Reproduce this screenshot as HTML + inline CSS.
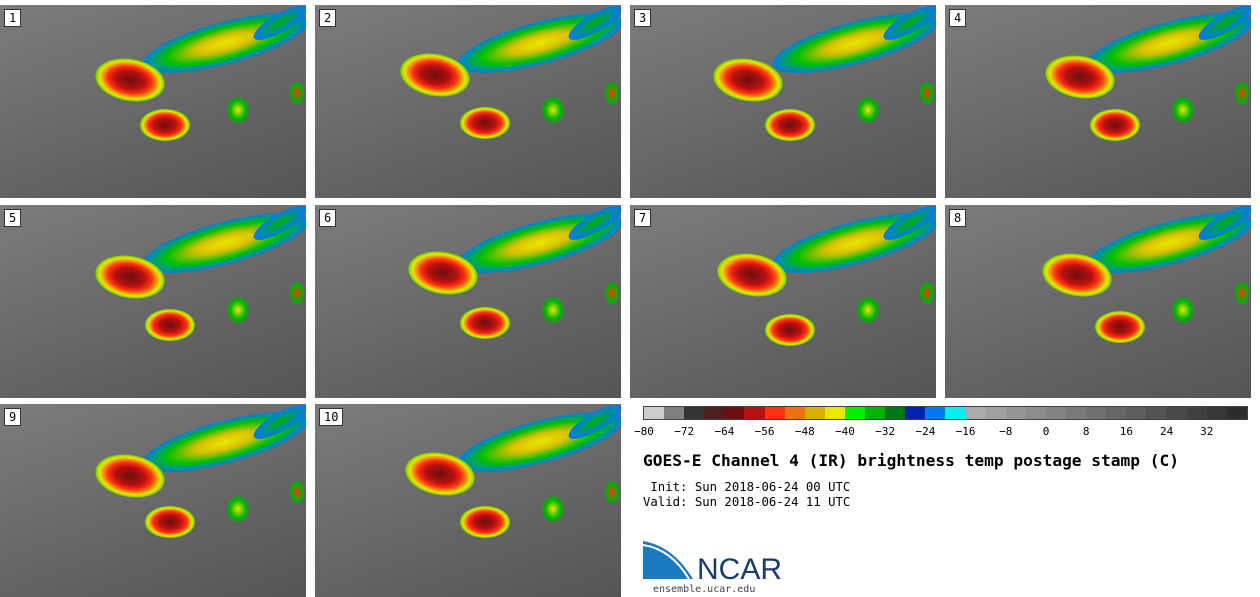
<!DOCTYPE html>
<html><head><meta charset="utf-8">
<style>
body{margin:0;width:1260px;height:597px;background:#fff;position:relative;overflow:hidden;font-family:"DejaVu Sans Mono","Liberation Mono",monospace;}
.panel{position:absolute;width:306px;height:193px;background:linear-gradient(160deg,#7c7c7c 0%,#6e6e6e 35%,#626262 65%,#555555 100%);overflow:hidden}
.num{position:absolute;left:4px;top:4px;background:#fff;border:1px solid #333;font-size:12px;padding:1px 4px;color:#000;z-index:5}
.blob{position:absolute;border-radius:50%}
#cbar{position:absolute;left:643px;top:406px;height:12px;width:603px;border:1px solid #444;display:flex}
.tick{position:absolute;top:425px;font-size:11px;transform:translateX(-50%);color:#000}
</style></head><body>
<div id="panels"></div>
<div id="cbar"></div>
<div id="ticks"></div>
<div style="position:absolute;left:643px;top:451px;font-size:16.2px;font-weight:bold">GOES-E Channel 4 (IR) brightness temp postage stamp (C)</div>
<div style="position:absolute;left:643px;top:480px;font-size:12.3px;white-space:pre"> Init: Sun 2018-06-24 00 UTC</div>
<div style="position:absolute;left:643px;top:495px;font-size:12.3px;white-space:pre">Valid: Sun 2018-06-24 11 UTC</div>
<div style="position:absolute;left:643px;top:541px;">
 <svg width="150" height="42"><path d="M0,0 Q30,5 50,38 L0,38 Z" fill="#1a7ac0"/><path d="M0,4 Q28,8 46,38" stroke="#fff" stroke-width="2" fill="none"/>
 <text x="54" y="38" font-family="Liberation Sans,sans-serif" font-size="30" fill="#1a3a6a">NCAR</text></svg>
</div>
<div style="position:absolute;left:653px;top:584px;font-size:10px;color:#444">ensemble.ucar.edu</div>
<script>
const cbColors=["#cccccc","#808080","#333333","#4f1f1f","#6e0e0e","#b81010","#ff3010","#f07010","#d8b000","#e8e800","#00f000","#00b400","#007818","#0020b0","#0078f0","#00f0f0","#aaaaaa","#a0a0a0","#969696","#8c8c8c","#838383","#797979","#707070","#666666","#5d5d5d","#535353","#494949","#404040","#363636","#2c2c2c"];
const tickLabels=[-80,-72,-64,-56,-48,-40,-32,-24,-16,-8,0,8,16,24,32];
const panelX=[0,315,630,945];
const panelY=[5,205,404];
const stormAx=[130,120,118,135,130,128,122,132,130,125];
const stormAy=[75,70,75,72,72,68,70,70,72,70];
const stormBx=[165,170,160,170,170,170,160,175,170,170];
const stormBy=[120,118,120,120,120,118,125,122,118,118];
const cb=document.getElementById('cbar');
cbColors.forEach(c=>{const d=document.createElement('div');


d.style.flex='1';d.style.background=c;cb.appendChild(d);});
const tk=document.getElementById('ticks');
tickLabels.forEach(v=>{const t=document.createElement('div');t.className='tick';


t.style.left=(644+(v+80)/120*603)+'px';t.textContent=String(v).replace('-','\u2212');tk.appendChild(t);});
function blob(p,x,y,w,h,bg,rot){const b=document.createElement('div');b.className='blob';


b.style.left=(x-w/2)+'px';b.style.top=(y-h/2)+'px';b.style.width=w+'px';b.style.height=h+'px';b.style.background=bg;if(rot)b.style.transform='rotate('+rot+'deg)';p.appendChild(b);}
const P=document.getElementById('panels');
for(let i=0;i<10;i++){const p=document.createElement('div');p.className='panel';


p.style.left=panelX[i%4]+'px';p.style.top=panelY[Math.floor(i/4)]+'px';
const n=document.createElement('div');n.className='num';


n.textContent=i+1;p.appendChild(n);
blob(p,225,38,170,42,'radial-gradient(ellipse,#e8e800 0%,#d8c000 25%,#00c000 50%,#0078f0 72%,rgba(0,240,240,0) 100%)',-15);
blob(p,280,18,60,18,'radial-gradient(ellipse,#00b400,#0078f0 70%,rgba(0,0,0,0))',-30);
blob(p,stormAx[i],stormAy[i],70,42,'radial-gradient(ellipse,#6e0e0e 0%,#b81010 30%,#ff3010 45%,#e8e800 62%,#00b400 78%,rgba(0,240,240,0) 100%)',10);
blob(p,stormBx[i],stormBy[i],50,32,'radial-gradient(ellipse,#6e0e0e 0%,#b81010 30%,#ff3010 48%,#e8e800 62%,#00b400 78%,rgba(0,240,240,0) 100%)',0);
blob(p,238,105,22,26,'radial-gradient(ellipse,#e8e800,#00b400 50%,rgba(0,240,240,0))',0);
blob(p,297,88,14,22,'radial-gradient(ellipse,#ff3010,#00b400 55%,rgba(0,0,0,0))',0);
P.appendChild(p);}
</script>
</body></html>
